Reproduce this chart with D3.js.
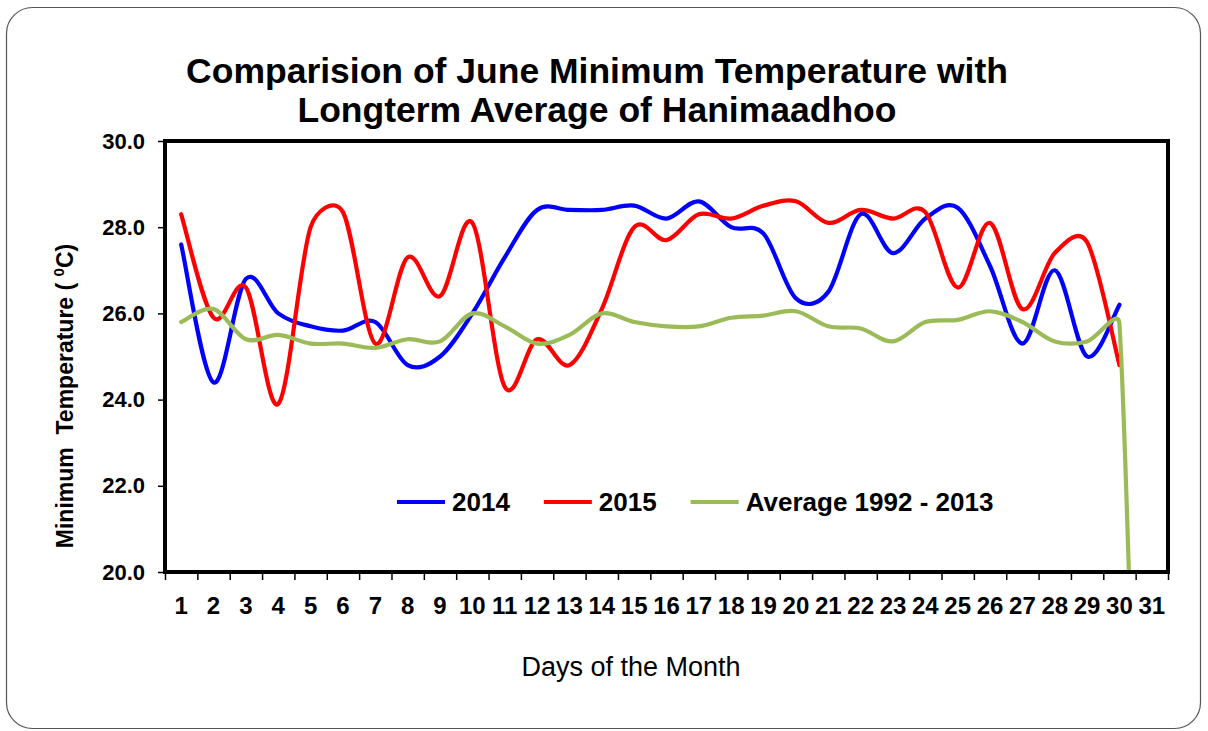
<!DOCTYPE html>
<html>
<head>
<meta charset="utf-8">
<script src="https://cdn.jsdelivr.net/npm/d3@7"></script>
<style>
  body { margin: 0; background: #fff; }
  svg { display: block; font-family: "Liberation Sans", Arial, sans-serif; }
</style>
</head>
<body>
<svg id="chart" width="1208" height="731"></svg>
<script>
// days of June (category axis)
const days = [1, 2, 3, 4, 5, 6, 7, 8, 9, 10, 11, 12, 13, 14, 15, 16,
  17, 18, 19, 20, 21, 22, 23, 24, 25, 26, 27, 28, 29, 30, 31];

const temp2014 = [27.6, 24.4, 26.8, 26.0, 25.7, 25.6, 25.8, 24.8, 25.0, 26.0,
  27.3, 28.4, 28.4, 28.4, 28.5, 28.2, 28.6, 28.0, 27.85, 26.35,
  26.5, 28.3, 27.4, 28.2, 28.45, 27.1, 25.3, 27.0, 25.0, 26.2];

const temp2015 = [28.3, 25.9, 26.6, 23.9, 28.0, 28.35, 25.3, 27.3, 26.4, 28.1,
  24.3, 25.4, 24.8, 26.1, 28.0, 27.7, 28.3, 28.2, 28.5, 28.6,
  28.1, 28.4, 28.2, 28.35, 26.6, 28.1, 26.1, 27.4, 27.65, 24.8];

// long-term average, day 31 is an empty cell counted as 0
const avgTemp = [25.8, 26.1, 25.4, 25.5, 25.3, 25.3, 25.2, 25.4, 25.35, 26.0,
  25.7, 25.3, 25.5, 26.0, 25.8, 25.7, 25.7, 25.9, 25.95, 26.05,
  25.7, 25.65, 25.35, 25.8, 25.85, 26.05, 25.8, 25.35, 25.35, 25.75, 0];

const yTicks = [20, 22, 24, 26, 28, 30];

const seriesNames = ["2014", "2015", "Average 1992 - 2013"];
const seriesColors = ["#0000ff", "#ff0000", "#9bbb59"];
const seriesValues = [temp2014, temp2015, avgTemp];

const plotLeft = 165, plotTop = 141;
const width = 1168 - plotLeft, height = 572 - plotTop;

const svg = d3.select("#chart");

// rounded slide frame
svg.append("rect")
  .attr("x", 6.5).attr("y", 7.5)
  .attr("width", 1194).attr("height", 721)
  .attr("rx", 26)
  .attr("fill", "#fff")
  .attr("stroke", "#555")
  .attr("stroke-width", 1.2);

// title
const title = svg.append("text")
  .attr("text-anchor", "middle")
  .attr("font-size", 35.5)
  .attr("font-weight", "bold")
  .attr("fill", "#000");
title.append("tspan").attr("x", 597).attr("y", 83).text("Comparision of June Minimum Temperature with");
title.append("tspan").attr("x", 597).attr("y", 122).text("Longterm Average of Hanimaadhoo");

const g = svg.append("g").attr("transform", "translate(" + plotLeft + "," + plotTop + ")");

const x = d3.scaleBand().domain(days).range([0, width]);
const xEdge = d3.scaleLinear().domain([0, days.length]).range([0, width]);
const y = d3.scaleLinear().domain([20, 30]).range([height, 0]);

g.append("clipPath").attr("id", "plotClip")
  .append("rect").attr("width", width).attr("height", height);

// y axis
const yAxis = g.append("g")
  .call(d3.axisLeft(y).tickValues(yTicks).tickFormat(d3.format(".1f")).tickSize(7).tickPadding(13));
yAxis.select(".domain").remove();
yAxis.selectAll("line").attr("stroke", "#000").attr("stroke-width", 1.5);
yAxis.selectAll("text")
  .attr("font-family", "Liberation Sans, Arial, sans-serif")
  .attr("font-size", 22).attr("font-weight", "bold").attr("fill", "#000");

// x axis: tick marks between days, labels centred on days
const xTickAxis = g.append("g")
  .attr("transform", "translate(0," + height + ")")
  .call(d3.axisBottom(xEdge).tickValues(d3.range(0, days.length + 1)).tickSize(8).tickFormat(""));
xTickAxis.select(".domain").remove();
xTickAxis.selectAll("line").attr("stroke", "#000").attr("stroke-width", 1.5);

const xAxis = g.append("g")
  .attr("transform", "translate(0," + height + ")")
  .call(d3.axisBottom(x).tickSize(0).tickPadding(25));
xAxis.select(".domain").remove();
xAxis.selectAll("text")
  .attr("font-family", "Liberation Sans, Arial, sans-serif")
  .attr("font-size", 24).attr("font-weight", "bold").attr("fill", "#000");

// spreadsheet-style smoothing: bezier arms of 1/6, capped at half the segment
function smoothPath(pts) {
  const p = d3.path();
  const dist = (a, b) => Math.hypot(a[0] - b[0], a[1] - b[1]);
  p.moveTo(pts[0][0], pts[0][1]);
  for (let i = 0; i < pts.length - 1; i++) {
    const p0 = pts[Math.max(i - 1, 0)], p1 = pts[i], p2 = pts[i + 1];
    const p3 = pts[Math.min(i + 2, pts.length - 1)];
    const d02 = dist(p0, p2), d12 = dist(p1, p2), d13 = dist(p1, p3);
    let f0 = 1 / 6, f1 = 1 / 6;
    if (d02 / 6 >= d12 / 2) f0 = d12 / d02 / 2;
    if (d13 / 6 >= d12 / 2) f1 = d12 / d13 / 2;
    p.bezierCurveTo(
      p1[0] + (p2[0] - p0[0]) * f0, p1[1] + (p2[1] - p0[1]) * f0,
      p2[0] - (p3[0] - p1[0]) * f1, p2[1] - (p3[1] - p1[1]) * f1,
      p2[0], p2[1]);
  }
  return p.toString();
}

const lines = g.append("g").attr("clip-path", "url(#plotClip)");
seriesValues.forEach((vals, i) => {
  const pts = vals.map((v, j) => [x(days[j]) + x.bandwidth() / 2, y(v)]);
  lines.append("path")
    .attr("d", smoothPath(pts))
    .attr("fill", "none")
    .attr("stroke", seriesColors[i])
    .attr("stroke-width", 4.2)
    .attr("stroke-linejoin", "round")
    .attr("stroke-linecap", "round");
});

// plot frame
g.append("rect")
  .attr("width", width).attr("height", height)
  .attr("fill", "none").attr("stroke", "#000").attr("stroke-width", 4);

// legend
const legend = svg.append("g").attr("transform", "translate(397,502)");
let lx = 0;
seriesNames.forEach((name, i) => {
  legend.append("line")
    .attr("x1", lx).attr("x2", lx + 48)
    .attr("stroke", seriesColors[i]).attr("stroke-width", 4.2);
  const t = legend.append("text")
    .attr("x", lx + 55).attr("y", 9)
    .attr("font-size", 26).attr("font-weight", "bold")
    .text(name);
  lx += 55 + t.node().getComputedTextLength() + 34;
});

// axis titles
svg.append("text")
  .attr("x", 631).attr("y", 676)
  .attr("text-anchor", "middle")
  .attr("font-size", 27)
  .text("Days of the Month");

const yTitle = svg.append("text")
  .attr("transform", "translate(73,396) rotate(-90)")
  .attr("text-anchor", "middle")
  .attr("font-size", 23).attr("font-weight", "bold")
  .style("white-space", "pre");
yTitle.append("tspan").text("Minimum  Temperature ( ");
yTitle.append("tspan").attr("font-size", 15).attr("dy", -9).text("0");
yTitle.append("tspan").attr("dy", 9).text("C)");
</script>
</body>
</html>
